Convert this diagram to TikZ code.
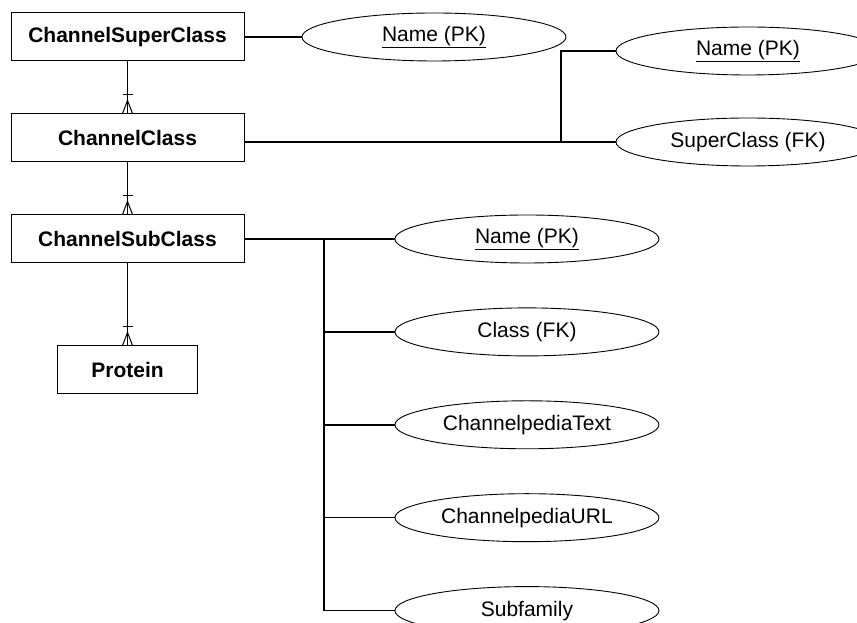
\documentclass[tikz,border=0pt]{standalone}
\usepackage{fontspec}
\setmainfont{Liberation Sans}
\usetikzlibrary{positioning,shapes.geometric}

\tikzset{
  entity/.style={draw, line width=1pt, minimum width=233pt, minimum height=48pt,
    inner sep=0pt, font=\fontsize{21}{25}\selectfont\bfseries},
  attrib/.style={draw, ellipse, line width=0.9pt, minimum width=264pt, minimum height=48pt,
    inner sep=0pt, font=\fontsize{21}{25}\selectfont},
  link/.style={line width=1.6pt},
  foot/.style={line width=1pt},
}

\begin{document}
\begin{tikzpicture}[x=1pt,y=1pt]
  \useasboundingbox (0,0) rectangle (857,623);
  % entities
  \node[entity] (super) at (127.5,586) {ChannelSuperClass};
  \node[entity, below=52pt of super] (class) {ChannelClass};
  \node[entity, below=52pt of class] (sub) {ChannelSubClass};
  \node[entity, minimum width=140pt, below=82pt of sub] (prot) {Protein};
  % attributes
  \node[attrib, right=57pt of super] (supname) {\underline{Name (PK)}};
  \node[attrib] (clsname) at (748,572) {\underline{Name (PK)}};
  \node[attrib] (clssup) at (748,481) {SuperClass (FK)};
  \node[attrib, right=150pt of sub] (subname) {\underline{Name (PK)}};
  \node[attrib, below=44pt of subname] (subcls) {Class (FK)};
  \node[attrib, below=44pt of subcls] (subtext) {ChannelpediaText};
  \node[attrib, below=44pt of subtext] (suburl) {ChannelpediaURL};
  \node[attrib, below=44pt of suburl] (subfam) {Subfamily};
  \coordinate (jn) at (561,481);
  \coordinate (bus) at (324,386);
  % connectors
  \draw[link] (super) -- (supname);
  \draw[link] (class.east |- clssup.west) -- (clssup.west);
  \draw[link] (jn) |- (clsname.west);
  \draw[link] (sub) -- (subname);
  \draw[link] (bus |- subname.west) -- (bus |- subfam.west);
  \foreach \a in {subcls,subtext,suburl,subfam}
    \draw[link] (bus |- \a.west) -- (\a.west);
  \draw[link] (super) -- (class);
  \draw[link] (class) -- (sub);
  \draw[link] (sub) -- (prot);
  % crow's feet
  \foreach \c in {class,sub,prot} {
    \draw[foot] ([xshift=-5pt,yshift=19pt]\c.north) -- ++(10,0);
    \draw[foot] ([xshift=-5pt]\c.north) -- ([yshift=13pt]\c.north) -- ([xshift=5pt]\c.north);
  }
\end{tikzpicture}
\end{document}
